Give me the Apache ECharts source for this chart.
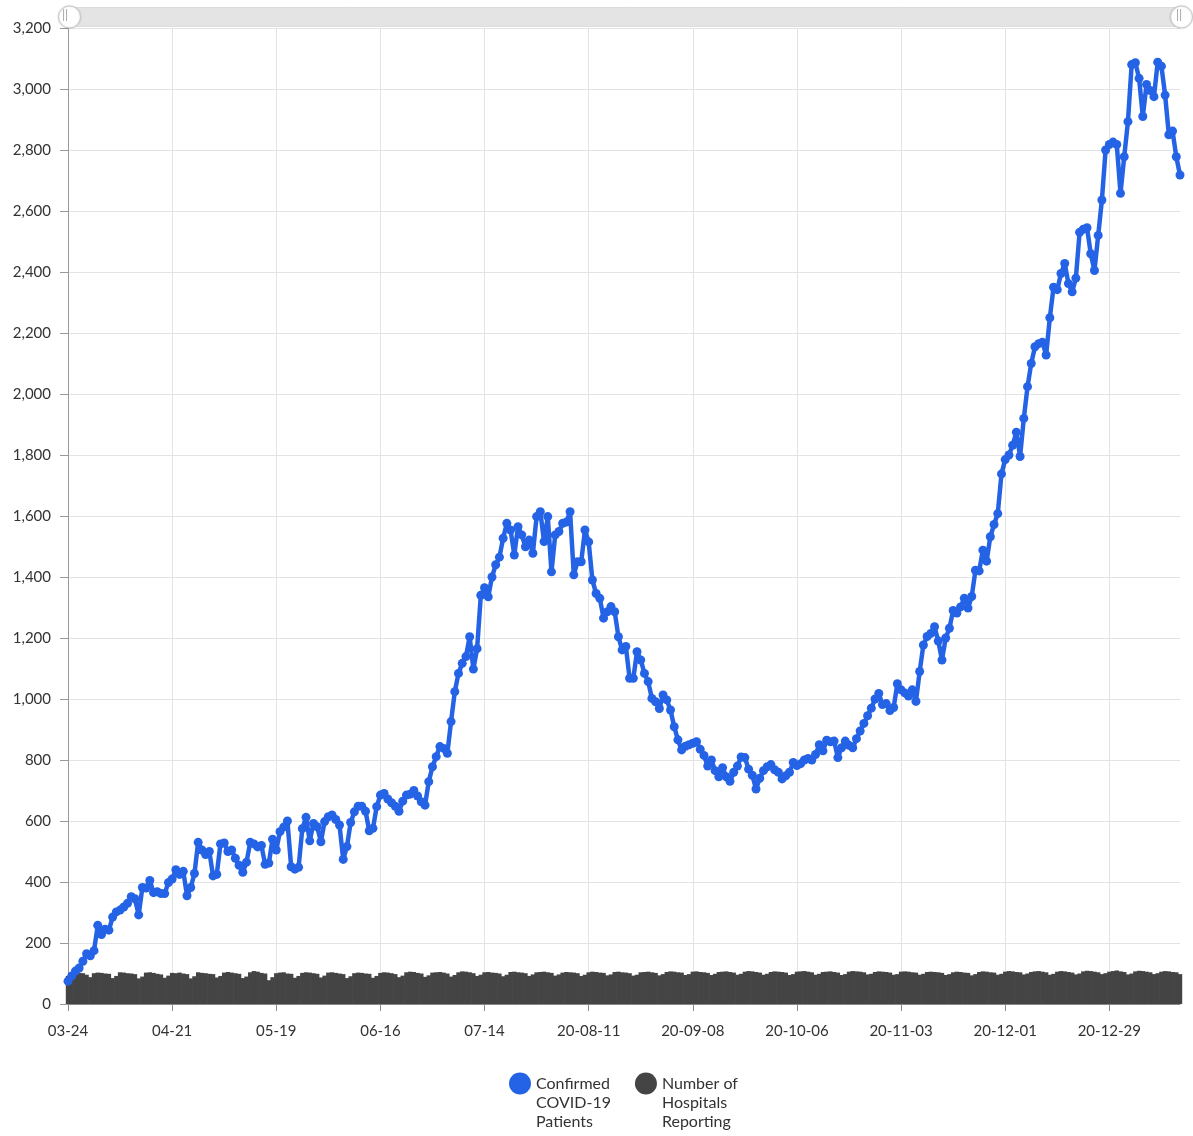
<!DOCTYPE html>
<html>
<head>
<meta charset="utf-8">
<script src="https://cdn.jsdelivr.net/npm/echarts@6/dist/echarts.min.js"></script>
<style>
html,body{margin:0;padding:0;background:#fff;}
#chart{width:1193px;height:1136px;}
</style>
</head>
<body>
<div id="chart"></div>
<script>
// ---- data ----
const startDate = '2020-03-24';
const tickLabels = ['03-24','04-21','05-19','06-16','07-14','20-08-11','20-09-08','20-10-06','20-11-03','20-12-01','20-12-29'];
const confirmedPatients = [
75,92,108,118,140,165,158,175,258,228,245,242,285,302,308,318,330,352,345,292,
382,380,405,365,368,362,362,398,410,440,425,435,355,382,428,530,505,490,500,420,
425,525,528,500,505,478,455,432,465,530,525,515,520,458,462,540,505,565,580,600,
450,442,448,575,612,535,592,581,532,598,614,620,605,587,474,516,595,630,648,648,
632,568,576,647,685,690,672,660,648,632,665,685,688,700,682,663,652,729,778,811,
844,838,822,926,1024,1084,1117,1139,1204,1098,1165,1340,1365,1335,1400,1440,1465,1527,1576,1554,
1472,1565,1538,1499,1521,1478,1598,1614,1516,1598,1417,1538,1549,1576,1580,1614,1407,1450,1450,1554,
1515,1390,1346,1330,1265,1286,1303,1286,1204,1161,1172,1068,1068,1155,1128,1084,1057,1002,991,969,
1013,997,964,909,866,833,845,850,855,860,835,815,780,800,765,745,775,745,730,760,
780,810,808,770,750,705,740,765,778,785,768,760,738,748,760,792,782,788,800,805,
800,818,850,830,865,860,862,808,840,862,848,840,870,895,920,945,970,1000,1018,982,
985,962,972,1050,1030,1020,1010,1030,992,1090,1177,1205,1215,1237,1190,1128,1200,1232,1290,1282,
1302,1330,1298,1336,1422,1420,1488,1452,1532,1572,1608,1738,1785,1800,1832,1875,1795,1920,2024,2100,
2155,2165,2170,2128,2250,2350,2342,2395,2428,2362,2335,2380,2530,2540,2545,2460,2405,2520,2636,2800,
2818,2826,2818,2658,2778,2893,3080,3086,3035,2910,3015,2995,2975,3088,3075,2980,2850,2862,2778,2718
];
const hospitalsReporting = [
92,100,104,102,101,96,88, 101,103,102,100,99,85,92, 104,103,101,100,98,84,90,
103,104,102,99,97,86,93, 102,101,103,100,98,84,91, 104,102,101,99,98,87,92,
103,105,103,101,99,85,90, 104,108,106,102,100,78,88, 101,103,104,100,99,86,92,
102,104,103,101,99,87,93, 103,104,102,100,98,85,91, 101,103,102,100,99,86,92,
102,104,103,101,98,88,93, 104,106,105,102,100,89,94, 103,104,105,103,100,90,95,
104,107,106,104,101,92,96, 104,105,103,102,100,91,96, 105,106,104,103,101,92,97,
104,105,106,104,102,93,97, 103,105,104,103,101,92,96, 104,106,105,103,102,94,97,
105,106,104,103,101,93,96, 104,105,106,104,102,94,98, 105,107,106,104,103,95,98,
106,107,105,104,102,95,99, 105,106,107,105,103,96,99, 106,108,107,105,103,96,99,
105,107,106,105,103,95,98, 106,107,108,106,104,96,99, 105,106,107,105,103,95,98,
106,108,107,106,104,97,99, 105,107,106,105,103,96,98, 106,107,106,104,103,96,99,
105,106,105,104,102,95,98, 104,106,105,103,102,94,98, 105,107,106,104,103,96,99,
106,108,107,105,104,97,100, 105,107,108,106,104,96,99, 106,108,107,105,103,97,100,
107,109,108,106,104,98,101, 106,108,110,107,105,97,100, 107,109,108,106,104,98,101,
106,108,107,105,104,98
];
const seriesNames = ['Confirmed\nCOVID-19\nPatients', 'Number of\nHospitals\nReporting'];

// category dates (one per day)
const categories = [];
(function(){
  const d0 = new Date(startDate + 'T00:00:00Z');
  for (let i = 0; i < confirmedPatients.length; i++) {
    const d = new Date(d0.getTime() + i * 86400000);
    categories.push(d.toISOString().slice(0,10));
  }
})();

const FONT = 'Lato';
const BLUE = '#2563e6';
const chart = echarts.init(document.getElementById('chart'), null, {renderer:'canvas'});
chart.setOption({
  animation: false,
  backgroundColor: '#fff',
  textStyle: {fontFamily: FONT},
  grid: {left: 68, right: 13, top: 28, bottom: 132, containLabel: false},
  dataZoom: [{
    type: 'slider', xAxisIndex: 0, start: 0, end: 100,
    left: 67, right: 12, top: 7, height: 20,
    showDetail: false, showDataShadow: false, brushSelect: false,
    moveHandleSize: 0,
    backgroundColor: '#ececec', borderColor: '#dcdcdc',
    fillerColor: 'rgba(225,225,225,0.7)',
    handleIcon: 'circle', handleSize: 22,
    handleStyle: {color: '#fff', borderColor: '#c8c8c8', borderWidth: 1,
      shadowBlur: 2, shadowColor: 'rgba(0,0,0,0.15)'}
  }],
  legend: {
    top: 1031, left: 504,
    itemWidth: 22, itemHeight: 22, itemGap: 24,
    icon: 'circle',
    data: seriesNames,
    formatter: function (name) { return '\n\n' + name; },
    textStyle: {fontFamily: FONT, fontSize: 16, color: '#333', lineHeight: 19}
  },
  xAxis: {
    type: 'category', boundaryGap: false, data: categories,
    axisLine: {show: true, lineStyle: {color: '#888'}},
    axisTick: {show: true, interval: 27, length: 7, lineStyle: {color: '#888'}},
    splitLine: {show: true, interval: 27, lineStyle: {color: '#e3e3e3'}},
    axisLabel: {
      interval: 27, margin: 20, fontSize: 15, color: '#333', fontFamily: FONT,
      formatter: function (v, idx) { return tickLabels[Math.round(idx / 28)] || ''; }
    }
  },
  yAxis: {
    type: 'value', min: 0, max: 3200, interval: 200,
    axisLine: {show: true, lineStyle: {color: '#999'}},
    axisTick: {show: true, length: 8, lineStyle: {color: '#999'}},
    splitLine: {show: true, lineStyle: {color: '#e3e3e3'}},
    axisLabel: {
      margin: 17, fontSize: 15, color: '#333', fontFamily: FONT,
      formatter: function (v) { return v.toLocaleString('en-US'); }
    }
  },
  series: [
    {
      name: seriesNames[0], type: 'line', data: confirmedPatients,
      color: BLUE, z: 3,
      showAllSymbol: true, symbol: 'circle', symbolSize: 9,
      lineStyle: {width: 4.5, color: BLUE},
      itemStyle: {color: BLUE}
    },
    {
      name: seriesNames[1], type: 'bar', data: hospitalsReporting,
      color: '#444444', barWidth: 4.4, z: 2,
      itemStyle: {color: '#444444'}
    }
  ],
  graphic: [
    {type: 'text', left: 62, top: 9, z: 100, style: {text: '||', fill: '#aaa', font: '12px sans-serif'}},
    {type: 'text', left: 1176, top: 9, z: 100, style: {text: '||', fill: '#aaa', font: '12px sans-serif'}}
  ]
});
</script>
</body>
</html>
